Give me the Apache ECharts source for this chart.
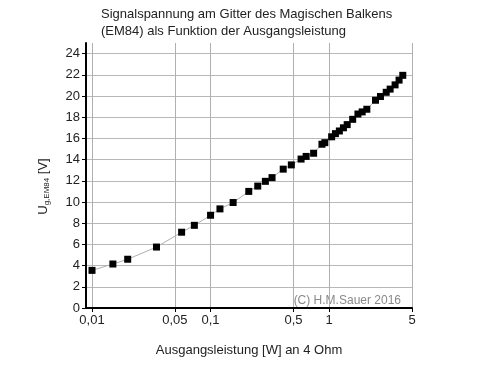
<!DOCTYPE html>
<html>
<head>
<meta charset="utf-8">
<script src="https://cdn.jsdelivr.net/npm/echarts@6/dist/echarts.min.js"></script>
<style>html,body{margin:0;padding:0;background:#fff;}#c{width:480px;height:371px;}</style>
</head>
<body>
<div id="c"></div>
<script>
const titleLines = ['Signalspannung am Gitter des Magischen Balkens', '(EM84) als Funktion der Ausgangsleistung'];
const xAxisTitle = 'Ausgangsleistung [W] an 4 Ohm';
const copyright = '(C) H.M.Sauer 2016';
const xTicks = [0.01, 0.05, 0.1, 0.5, 1, 5];
const yTicks = [0, 2, 4, 6, 8, 10, 12, 14, 16, 18, 20, 22, 24];
const power = [0.01, 0.015, 0.02, 0.035, 0.057, 0.073, 0.1, 0.12, 0.155, 0.21, 0.25, 0.29, 0.33, 0.41, 0.48, 0.58, 0.64, 0.74, 0.87, 0.92, 1.05, 1.13, 1.22, 1.32, 1.42, 1.58, 1.75, 1.9, 2.08, 2.46, 2.71, 3.03, 3.27, 3.6, 3.89, 4.18];
const voltage = [3.55, 4.15, 4.6, 5.75, 7.15, 7.8, 8.75, 9.35, 9.95, 11.0, 11.5, 11.95, 12.3, 13.1, 13.5, 14.05, 14.3, 14.6, 15.45, 15.6, 16.15, 16.45, 16.7, 17.0, 17.3, 17.8, 18.3, 18.5, 18.75, 19.6, 19.95, 20.35, 20.65, 21.05, 21.5, 21.95];

const chart = echarts.init(document.getElementById('c'), null, {renderer: 'canvas'});
const font = '"Liberation Sans", Arial, sans-serif';
chart.setOption({
  animation: false,
  backgroundColor: '#fff',
  textStyle: {fontFamily: font},
  title: {
    text: titleLines.join('\n'),
    left: 96, top: 1,
    textStyle: {fontSize: 13, fontWeight: 'normal', color: '#222', lineHeight: 17, fontFamily: font}
  },
  grid: {left: 86, right: 68, top: 43, bottom: 63, containLabel: false},
  xAxis: {
    type: 'log', logBase: 10, min: 0.0089, max: 5,
    name: xAxisTitle, nameLocation: 'middle', nameGap: 36,
    nameTextStyle: {fontSize: 13, color: '#222', fontFamily: font},
    axisLine: {show: true, onZero: false, lineStyle: {color: '#000', width: 2}},
    axisTick: {show: true, inside: false, length: 4, customValues: xTicks, lineStyle: {color: '#000'}},
    axisLabel: {customValues: xTicks, fontSize: 13, color: '#222', margin: 6, fontFamily: font,
      formatter: v => String(v).replace('.', ',')},
    splitLine: {show: true, lineStyle: {color: '#b0b0b0', width: 1}},
    minorSplitLine: {show: false}
  },
  yAxis: {
    type: 'value', min: 0, max: 25,
    name: '{u|U}{s|g,EM84}{u| [V]}', nameLocation: 'middle', nameGap: 35, nameRotate: 90,
    nameTextStyle: {color: '#222', padding: [0, 22, 0, 0], rich: {
      u: {fontSize: 13, color: '#222', fontFamily: font},
      s: {fontSize: 8, color: '#222', fontFamily: font, verticalAlign: 'bottom', padding: [8, 0, 0, 0]}
    }},
    axisLine: {show: true, lineStyle: {color: '#000', width: 2}},
    axisTick: {show: true, length: 4, customValues: yTicks, lineStyle: {color: '#000'}},
    axisLabel: {customValues: yTicks, fontSize: 13, color: '#222', margin: 6, fontFamily: font},
    splitLine: {show: true, lineStyle: {color: '#b8b8b8', width: 1}}
  },
  graphic: [{
    type: 'text', right: 79, top: 295,
    style: {text: copyright, fontSize: 12, fill: '#8a8a8a', fontFamily: font}
  }],
  series: [{
    type: 'line',
    data: power.map((p, i) => [p, voltage[i]]),
    symbol: 'rect', symbolSize: 7,
    itemStyle: {color: '#000'},
    lineStyle: {color: '#b0b0b0', width: 1},
    z: 5
  }]
});
</script>
</body>
</html>
